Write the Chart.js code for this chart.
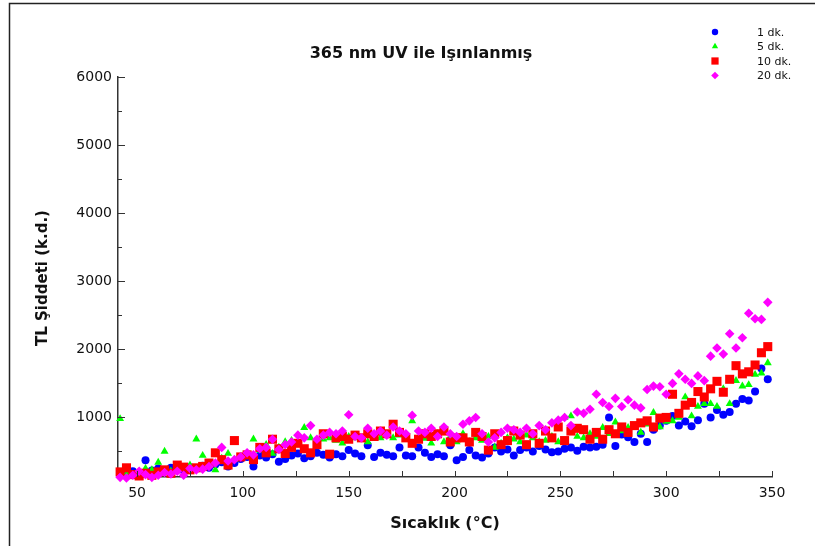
<!DOCTYPE html>
<html lang="tr">
<head>
<meta charset="UTF-8">
<title>365 nm UV ile Işınlanmış</title>
<script src="https://cdn.jsdelivr.net/npm/chart.js"></script>
<style>
  html, body { margin: 0; padding: 0; background: #fff; }
  #wrap { width: 815px; height: 546px; }
</style>
</head>
<body>
<div id="wrap"><canvas id="tlChart" width="815" height="546"></canvas></div>
<script>
// Sıcaklık (°C)
const temps = [42,45,48,51,54,57,60,63,66,69,72,75,78,81,84,87,90,93,96,99,
  102,105,108,111,114,117,120,123,126,129,132,135,138,141,144,147,150,153,156,159,
  162,165,168,171,174,177,180,183,186,189,192,195,198,201,204,207,210,213,216,219,
  222,225,228,231,234,237,240,243,246,249,252,255,258,261,264,267,270,273,276,279,
  282,285,288,291,294,297,300,303,306,309,312,315,318,321,324,327,330,333,336,339,
  342,345,348];

// TL şiddeti (k.d.) for each irradiation time
const tl1 = [160,190,210,180,370,220,250,210,260,230,220,270,250,290,260,310,340,280,330,390,
  420,280,440,410,460,350,390,440,470,400,430,480,450,410,460,430,520,470,430,590,
  420,480,450,430,560,440,430,560,480,420,460,430,590,370,420,520,440,410,470,560,
  500,530,440,520,560,500,580,530,490,500,540,560,510,570,560,570,600,1000,580,750,
  710,640,760,640,820,880,950,1020,880,940,870,960,1200,1000,1110,1040,1080,1200,1270,1250,
  1380,1720,1560];

const tl5 = [980,180,160,200,250,230,340,500,210,280,260,300,680,440,300,230,400,470,380,420,
  450,680,520,600,470,560,640,660,600,850,700,620,680,700,660,620,720,700,680,640,
  720,700,750,700,740,680,950,700,690,620,760,640,720,640,760,640,700,660,720,560,
  620,700,680,640,740,700,640,660,720,640,1000,1020,720,700,760,720,850,760,930,800,
  850,870,780,900,1070,860,940,950,1000,1300,1020,1160,1200,1200,1160,1420,1200,1540,1460,1480,
  1630,1650,1800];

const tl10 = [200,260,160,140,180,150,200,230,180,300,270,230,260,280,330,480,380,300,660,420,
  450,380,560,480,680,540,470,560,620,540,480,600,760,460,700,720,680,740,700,760,
  720,800,760,900,780,700,620,680,760,720,760,800,640,700,700,640,780,720,520,760,
  600,660,800,740,600,760,620,800,700,860,660,800,840,820,680,780,680,820,760,860,
  780,880,920,950,860,990,1000,1340,1060,1180,1220,1380,1300,1420,1530,1370,1560,1760,1640,1670,
  1770,1950,2040];

const tl20 = [120,110,150,210,160,120,150,190,170,210,150,250,230,240,280,330,560,360,380,420,
  480,450,540,560,680,530,600,640,740,700,880,680,740,780,760,800,1040,720,700,840,
  760,800,740,860,800,760,1030,800,780,840,720,860,760,720,900,950,1000,760,640,700,
  780,840,820,780,840,760,880,820,920,960,1000,880,1080,1060,1120,1340,1220,1160,1280,1160,
  1260,1180,1140,1410,1460,1450,1340,1500,1640,1560,1500,1610,1540,1900,2020,1930,2230,2020,2170,2530,
  2450,2440,2690];

const seriesNames = ['1 dk.', '5 dk.', '10 dk.', '20 dk.'];
const seriesColors = ['#0000ff', '#00ff00', '#ff0000', '#ff00ff'];
const seriesShapes = ['circle', 'triangle', 'rect', 'rectRot'];
const seriesRadius = [4, 4.6, 6.4, 4.8];

// tick marks every 25 °C / 500 k.d., labels on every other one
const xTickValues = [50,75,100,125,150,175,200,225,250,275,300,325,350];
const yTickValues = [500,1000,1500,2000,2500,3000,3500,4000,4500,5000,5500,6000];
const xTicksLabelled = [50, 100, 150, 200, 250, 300, 350];
const yTicksLabelled = [1000, 2000, 3000, 4000, 5000, 6000];

const FONT = '"DejaVu Sans", Arial, sans-serif';

function toPoints(values) {
  return temps.map((t, i) => ({ x: t, y: values[i] }));
}

// frame, inward tick marks, title, axis titles and the legend
const decor = {
  id: 'decor',
  beforeDraw(chart) {
    const ctx = chart.ctx;
    ctx.save();
    ctx.fillStyle = '#fff';
    ctx.fillRect(0, 0, chart.width, chart.height);
    ctx.strokeStyle = '#222';
    ctx.lineWidth = 1.5;
    ctx.beginPath();
    ctx.moveTo(9.5, chart.height);
    ctx.lineTo(9.5, 3.5);
    ctx.lineTo(chart.width, 3.5);
    ctx.stroke();
    ctx.restore();
  },
  afterDatasetsDraw(chart) {
    const ctx = chart.ctx;
    const xs = chart.scales.x, ys = chart.scales.y;
    const area = chart.chartArea;
    ctx.save();
    ctx.strokeStyle = '#333';
    ctx.lineWidth = 1;
    ctx.beginPath();
    xs.ticks.forEach(t => {
      const px = Math.round(xs.getPixelForValue(t.value)) + 0.5;
      ctx.moveTo(px, area.bottom);
      ctx.lineTo(px, area.bottom - 6);
    });
    ys.ticks.forEach(t => {
      const py = Math.round(ys.getPixelForValue(t.value)) + 0.5;
      const len = t.value % 1000 === 0 ? 7 : 4;
      ctx.moveTo(area.left, py);
      ctx.lineTo(area.left + len, py);
    });
    ctx.stroke();

    ctx.fillStyle = '#111';
    ctx.textAlign = 'center';
    ctx.textBaseline = 'middle';
    ctx.font = 'bold 16px ' + FONT;
    ctx.fillText('365 nm UV ile Işınlanmış', 421, 54);

    ctx.font = 'bold 16px ' + FONT;
    ctx.fillText('Sıcaklık (°C)', 445, 524);

    ctx.save();
    ctx.translate(43, 278);
    ctx.rotate(-Math.PI / 2);
    ctx.font = 'bold 15px ' + FONT;
    ctx.fillText('TL Şiddeti (k.d.)', 0, 0);
    ctx.restore();

    // legend, markers a bit smaller than in the plot
    ctx.font = '11px ' + FONT;
    ctx.textAlign = 'left';
    chart.data.datasets.forEach((ds, i) => {
      const y = 32 + i * 14.5;
      ctx.fillStyle = ds.backgroundColor;
      ctx.strokeStyle = ds.borderColor;
      Chart.helpers.drawPoint(ctx, {
        pointStyle: ds.pointStyle,
        radius: ds.pointRadius * 0.8,
        rotation: 0,
        borderWidth: 0
      }, 715, y);
      ctx.fillStyle = '#111';
      ctx.fillText(ds.label, 757, y + 1);
    });
    ctx.restore();
  }
};

const sets = [tl1, tl5, tl10, tl20].map((vals, i) => ({
  label: seriesNames[i],
  data: toPoints(vals),
  backgroundColor: seriesColors[i],
  borderColor: seriesColors[i],
  borderWidth: 0,
  pointStyle: seriesShapes[i],
  pointRadius: seriesRadius[i],
  order: 3 - i,
  clip: false
}));

new Chart(document.getElementById('tlChart'), {
  type: 'scatter',
  data: { datasets: sets },
  options: {
    responsive: false,
    animation: false,
    devicePixelRatio: 1,
    layout: { padding: { left: 10, top: 77, right: 43, bottom: 0 } },
    plugins: {
      legend: { display: false },
      title: { display: false },
      tooltip: { enabled: false }
    },
    scales: {
      x: {
        type: 'linear',
        min: 41,
        max: 350,
        afterFit(scale) { scale.height = 69; },
        afterBuildTicks(scale) {
          scale.ticks = xTickValues.map(v => ({ value: v }));
        },
        ticks: {
          autoSkip: false,
          maxRotation: 0,
          padding: 8,
          color: '#111',
          font: { family: FONT, size: 14 },
          callback: v => xTicksLabelled.includes(v) ? String(v) : ''
        },
        grid: { drawOnChartArea: false, drawTicks: false },
        border: { display: true, color: '#333', width: 1.5 }
      },
      y: {
        type: 'linear',
        min: 125,
        max: 6000,
        afterFit(scale) { scale.width = 108; },
        afterBuildTicks(scale) {
          scale.ticks = yTickValues.map(v => ({ value: v }));
        },
        ticks: {
          autoSkip: false,
          padding: 6,
          color: '#111',
          font: { family: FONT, size: 14 },
          callback: v => yTicksLabelled.includes(v) ? String(v) : ''
        },
        grid: { drawOnChartArea: false, drawTicks: false },
        border: { display: true, color: '#333', width: 1.5 }
      }
    }
  },
  plugins: [decor]
});
</script>
</body>
</html>
